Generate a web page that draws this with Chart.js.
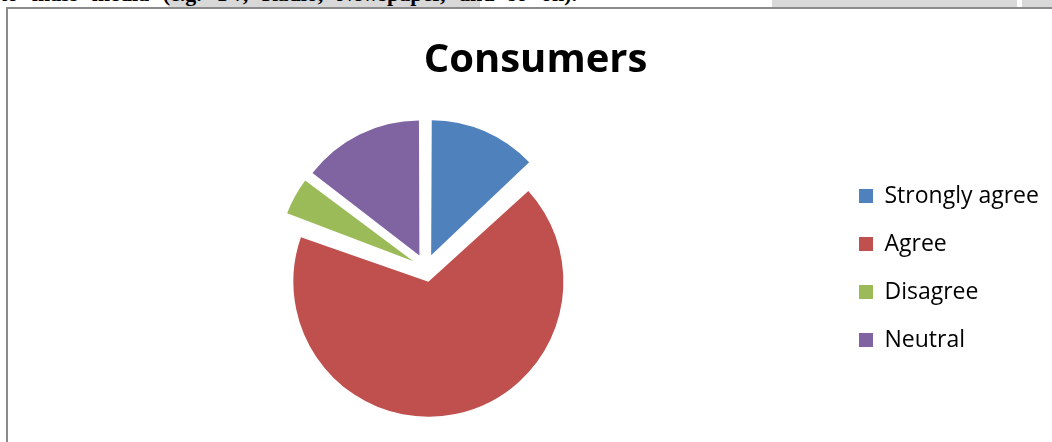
<!DOCTYPE html>
<html>
<head>
<meta charset="utf-8">
<script src="https://cdn.jsdelivr.net/npm/chart.js@4/dist/chart.umd.min.js"></script>
<style>
  html, body { margin: 0; padding: 0; background: #fff; width: 1052px; height: 442px; overflow: hidden; position: relative; }
  .band { position: absolute; top: 0; height: 7px; background: #d8d8d8; }
  .lead {
    position: absolute; left: 0; top: -17px; margin: 0; white-space: nowrap;
    font: bold 22px "Liberation Serif", "DejaVu Serif", serif; line-height: 1; color: #000;
    word-spacing: 8px;
  }
  .frame {
    position: absolute; left: 6px; top: 7px; width: 1100px; height: 480px;
    border-left: 2px solid #8a8a8a; border-top: 2px solid #8a8a8a;
  }
  #chart { position: absolute; left: 8px; top: 9px; }
</style>
</head>
<body>
<div class="band" style="left:168px;width:312px"></div>
<div class="band" style="left:772px;width:245px"></div>
<div class="band" style="left:1022px;width:30px"></div>
<p class="lead">to mass media (e.g. TV, Radio, Newspaper, and so on).</p>
<div class="frame"></div>
<canvas id="chart" width="1060" height="460"></canvas>
<script>
// Survey answers: share of consumers per response (%)
const categories = ['Strongly agree', 'Agree', 'Disagree', 'Neutral'];
const shares = [13, 67.6, 4.8, 14.6];
const chartTitle = 'Consumers';

const sliceColors = ['#4F81BD', '#C0504D', '#9BBB59', '#8064A2'];
const PIE_RADIUS = 135;
const EXPLODE = 56; // arc offset option; the arc element moves by offset / 4
const LEGEND_WIDTH = 219.8;

// Keep every exploded slice at the same radius (the arc element otherwise
// widens narrow slices by its offset correction).
const evenExplode = {
  id: 'evenExplode',
  afterDatasetsUpdate(chart) {
    const meta = chart.getDatasetMeta(0);
    meta.data.forEach(arc => {
      const shift = EXPLODE / 4;
      const fix = 1 - Math.sin(Math.min(Math.PI, arc.circumference || 0));
      arc.outerRadius = PIE_RADIUS - shift * fix;
    });
  }
};

function drawChart() {
  const baseLabels = Chart.overrides.pie.plugins.legend.labels.generateLabels;
  new Chart(document.getElementById('chart'), {
    type: 'pie',
    data: {
      labels: categories,
      datasets: [{
        data: shares,
        backgroundColor: sliceColors,
        borderWidth: 0,
        offset: EXPLODE,
        radius: PIE_RADIUS
      }]
    },
    options: {
      responsive: false,
      devicePixelRatio: 1,
      animation: false,
      layout: { padding: { left: 9.2, right: 14.2, top: 0, bottom: 23.6 } },
      plugins: {
        tooltip: { enabled: false },
        title: {
          display: true,
          text: chartTitle,
          color: '#000',
          font: { family: '"Open Sans"', size: 40, weight: 'bold', lineHeight: 1.2 },
          padding: { top: 27.8, bottom: 5.8 }
        },
        legend: {
          position: 'right',
          fullSize: false,
          maxWidth: LEGEND_WIDTH,
          labels: {
            color: '#000',
            font: { family: '"Open Sans"', size: 23 },
            boxWidth: 14,
            boxHeight: 14,
            padding: 25,
            // trailing spaces give the legend column a fixed width to clamp
            generateLabels: chart => baseLabels(chart).map(item => ({ ...item, text: item.text + '   ' }))
          }
        }
      }
    },
    plugins: [evenExplode]
  });
}

// Make sure the label fonts are ready before the legend is measured
Promise.all([
  document.fonts.load('bold 40px "Open Sans"'),
  document.fonts.load('23px "Open Sans"')
]).then(drawChart, drawChart);
</script>
</body>
</html>
